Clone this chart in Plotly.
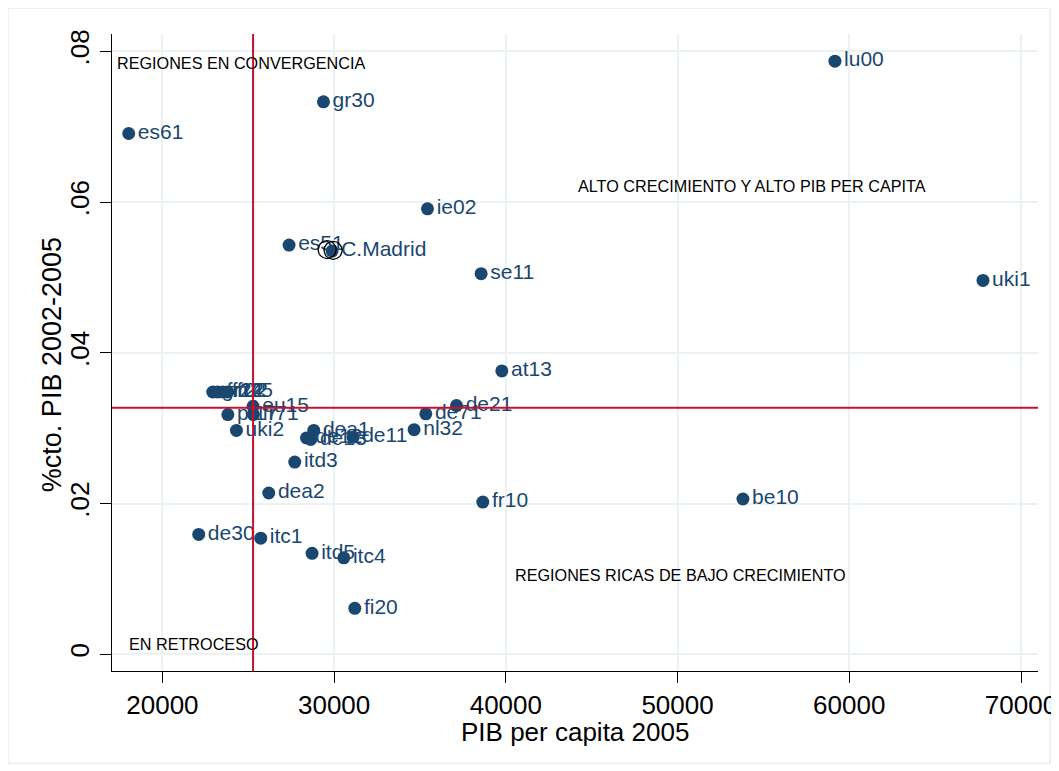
import plotly.graph_objects as go

# --- data ---
regions = ["lu00", "gr30", "es61", "ie02", "es51", "C.Madrid", "se11", "uki1", "at13",
           "gr12", "fr24", "fr22", "fr25", "eu15", "pt17", "fr71", "uki2", "dea1", "de12", "de13",
           "de11", "nl32", "de71", "de21", "itd3", "dea2", "fr10", "be10", "de30", "itc1",
           "itd5", "itc4", "fi20"]
gdp_pc = [59165, 29379, 18037, 35437, 27375, 29880, 38560, 67786, 39766,
          22930, 23221, 23513, 23804, 25280, 23810, 25300, 24311, 28814, 28389, 28639,
          31103, 34657, 35339, 37127, 27707, 26193, 38659, 53806, 22115, 25726,
          28715, 30562, 31203]
growth = [0.0787, 0.0733, 0.0691, 0.0591, 0.0543, 0.0535, 0.0505, 0.0496, 0.0376,
          0.0348, 0.0348, 0.0348, 0.0348, 0.0329, 0.0318, 0.0318, 0.0297, 0.0297, 0.0287, 0.0285,
          0.0288, 0.0298, 0.0319, 0.0330, 0.0255, 0.0214, 0.0202, 0.0206, 0.0159, 0.0154,
          0.0134, 0.0128, 0.0061]

# highlighted region (hollow rings)
ring_gdp = [29590, 29940]
ring_growth = [0.0537, 0.0536]

# reference lines (EU15)
eu_gdp = 25280
eu_growth = 0.0327

x_ticks = [20000, 30000, 40000, 50000, 60000, 70000]
x_ticktext = ["20000", "30000", "40000", "50000", "60000", "70000"]
y_ticks = [0, 0.02, 0.04, 0.06, 0.08]
y_ticktext = ["0", ".02", ".04", ".06", ".08"]

quad_text = ["REGIONES EN CONVERGENCIA", "ALTO CRECIMIENTO Y ALTO PIB PER CAPITA",
             "REGIONES RICAS DE BAJO CRECIMIENTO", "EN RETROCESO"]
quad_x = [17250, 44100, 40400, 17920]
quad_y = [0.0784, 0.0621, 0.0105, 0.0013]

x_title = "PIB per capita 2005"
y_title = "%cto. PIB 2002-2005"

NAVY = "#1A476F"
RED = "#C8102E"
GRID = "#EAF2F3"
FONT = "Liberation Sans, Arial, sans-serif"

# plot area in figure pixels (page has an 8px body margin)
L, R, T, B = 104, 1030, 26, 662.7
PW, PH = R - L, B - T

fig = go.Figure()

fig.add_trace(go.Scatter(
    x=gdp_pc, y=growth, mode="markers+text", text=regions,
    textposition="middle right",
    textfont=dict(family=FONT, size=21, color=NAVY),
    marker=dict(size=13, color=NAVY, line=dict(width=0)),
    cliponaxis=False, showlegend=False, hoverinfo="skip"))

fig.add_trace(go.Scatter(
    x=ring_gdp, y=ring_growth, mode="markers",
    marker=dict(size=18, color="rgba(0,0,0,0)", line=dict(width=1.3, color="black")),
    showlegend=False, hoverinfo="skip"))

fig.add_shape(type="line", xref="x", yref="y domain", x0=eu_gdp, x1=eu_gdp, y0=0, y1=1,
              line=dict(color=RED, width=2), layer="above")
fig.add_shape(type="line", xref="x domain", yref="y", x0=0, x1=1, y0=eu_growth, y1=eu_growth,
              line=dict(color=RED, width=2), layer="above")

for t, xx, yy in zip(quad_text, quad_x, quad_y):
    fig.add_annotation(x=xx, y=yy, text=t, showarrow=False, xanchor="left", yanchor="middle",
                       font=dict(family=FONT, size=16.2, color="black"))

# axis titles
fig.add_annotation(xref="paper", yref="paper", x=(567 - L) / PW, y=(B - 724) / PH,
                   text=x_title, showarrow=False, xanchor="center", yanchor="middle",
                   font=dict(family=FONT, size=26, color="black"))
fig.add_annotation(xref="paper", yref="paper", x=(44 - L) / PW, y=(B - 357) / PH,
                   text=y_title, showarrow=False, textangle=-90, xanchor="center", yanchor="middle",
                   font=dict(family=FONT, size=27, color="black"))

# outer frame of the graph region
fig.add_shape(type="rect", xref="paper", yref="paper",
              x0=(0 - L) / PW, x1=(1042 - L) / PW, y0=(B - 755) / PH, y1=(B - 0) / PH,
              line=dict(color="#DDE4E8", width=1), layer="below")

fig.update_layout(
    width=1059, height=771,
    margin=dict(l=L, r=1059 - R, t=T, b=771 - B, autoexpand=False),
    paper_bgcolor="white", plot_bgcolor="white",
    font=dict(family=FONT, color="black"),
    xaxis=dict(range=[17064, 70990], tickvals=x_ticks, ticktext=x_ticktext, automargin=False,
               showgrid=True, gridcolor=GRID, gridwidth=2,
               zeroline=False, showline=True, linecolor="black", linewidth=1.3,
               ticks="outside", ticklen=11, tickcolor="black", tickwidth=1.3,
               tickfont=dict(size=26, family=FONT)),
    yaxis=dict(range=[-0.00222, 0.0823], tickvals=y_ticks, ticktext=y_ticktext, automargin=False,
               showgrid=True, gridcolor=GRID, gridwidth=2,
               zeroline=False, showline=True, linecolor="black", linewidth=1.3,
               ticks="outside", ticklen=11, tickcolor="black", tickwidth=1.3, tickangle=-90,
               tickfont=dict(size=26, family=FONT)),
)

fig.write_html("out.html")
